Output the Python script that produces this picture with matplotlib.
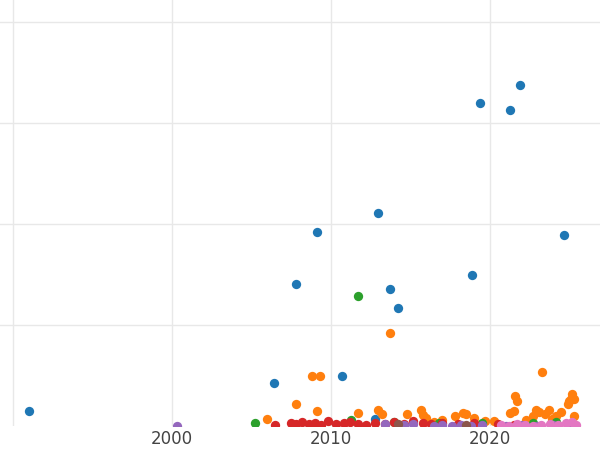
import matplotlib
matplotlib.use("Agg")
import matplotlib.pyplot as plt

# (year, value) per series
blue_x = [1991.0, 2006.4, 2007.8, 2009.15, 2010.7, 2013.0, 2013.75, 2014.2, 2018.9, 2019.4, 2021.3, 2021.9, 2024.7, 2012.8]
blue_y = [0.15, 0.43, 1.41, 1.92, 0.50, 2.11, 1.36, 1.17, 1.50, 3.20, 3.13, 3.38, 1.89, 0.07]

orange_x = [2013.75, 2008.8, 2009.3, 2007.8, 2009.1, 2023.3, 2021.6, 2021.7, 2025.2, 2025.3, 2006.0,
            2011.7, 2013.0, 2013.2, 2014.8, 2015.7, 2015.8, 2016.0, 2017.0, 2017.8, 2018.3, 2018.5,
            2019.0, 2020.3, 2021.3, 2021.5, 2022.3, 2022.7, 2022.9, 2023.1, 2023.5, 2023.7, 2024.2,
            2024.5, 2024.9, 2025.0, 2025.1, 2025.3, 2016.5, 2019.7, 2023.9]
orange_y = [0.92, 0.50, 0.50, 0.22, 0.15, 0.54, 0.30, 0.25, 0.32, 0.27, 0.07,
            0.13, 0.16, 0.12, 0.12, 0.16, 0.11, 0.08, 0.06, 0.10, 0.13, 0.12,
            0.08, 0.05, 0.13, 0.15, 0.06, 0.10, 0.16, 0.14, 0.12, 0.16, 0.10,
            0.14, 0.22, 0.25, 0.27, 0.10, 0.04, 0.05, 0.07]

green_x = [2011.7, 2005.2, 2011.3, 2014.0, 2016.8, 2019.5, 2022.7, 2024.2]
green_y = [1.29, 0.03, 0.06, 0.04, 0.03, 0.03, 0.03, 0.04]

red_x = [2006.5, 2007.5, 2007.8, 2008.2, 2008.6, 2009.0, 2009.4, 2009.8, 2010.3, 2010.8, 2011.2,
         2011.7, 2012.2, 2012.8, 2013.4, 2014.0, 2014.6, 2015.2, 2015.8, 2016.3, 2017.0, 2018.0,
         2019.0, 2020.5, 2021.5]
red_y = [0.01, 0.03, 0.02, 0.04, 0.02, 0.03, 0.01, 0.05, 0.02, 0.03, 0.04,
         0.02, 0.01, 0.03, 0.02, 0.04, 0.02, 0.05, 0.03, 0.02, 0.03, 0.02,
         0.03, 0.02, 0.01]

purple_x = [2000.3, 2013.4, 2014.6, 2015.2, 2016.5, 2017.0, 2017.6, 2018.2, 2018.8, 2019.5,
            2021.0, 2022.0, 2023.0, 2024.0, 2025.0]
purple_y = [0.0, 0.02, 0.01, 0.02, 0.0, 0.01, 0.0, 0.01, 0.0, 0.01, 0.0, 0.01, 0.0, 0.01, 0.0]

brown_x = [2014.2, 2018.5]
brown_y = [0.02, 0.01]

pink_x = [2020.7, 2021.2, 2021.7, 2022.2, 2022.7, 2023.2, 2023.8, 2024.3, 2024.8, 2025.2, 2025.4]
pink_y = [0.01, 0.0, 0.02, 0.01, 0.0, 0.01, 0.02, 0.01, 0.03, 0.04, 0.01]

series = [
    (blue_x, blue_y, "#1f77b4"),
    (orange_x, orange_y, "#ff7f0e"),
    (green_x, green_y, "#2ca02c"),
    (red_x, red_y, "#d62728"),
    (purple_x, purple_y, "#9467bd"),
    (brown_x, brown_y, "#8c564b"),
    (pink_x, pink_y, "#e377c2"),
]

fig = plt.figure(figsize=(6, 4.5), dpi=100)
ax = fig.add_axes([0, 0.053, 1, 0.947])
for xs, ys, c in series:
    ax.scatter(xs, ys, s=45, color=c, linewidths=0, zorder=3)

ax.set_xlim(1989.18, 2026.94)
ax.set_ylim(0, 4.22)
ax.set_xticks([1990, 2000, 2010, 2020])
ax.set_xticklabels(["", "2000", "2010", "2020"])
ax.set_yticks([1, 2, 3, 4])
ax.tick_params(axis="y", labelleft=False, length=0)
ax.tick_params(axis="x", length=0, labelsize=12, labelcolor="#444444", pad=3)
ax.grid(True, color="#e8e8e8", lw=1, zorder=0)
for s in ax.spines.values():
    s.set_visible(False)

fig.savefig("out.png", dpi=100)
